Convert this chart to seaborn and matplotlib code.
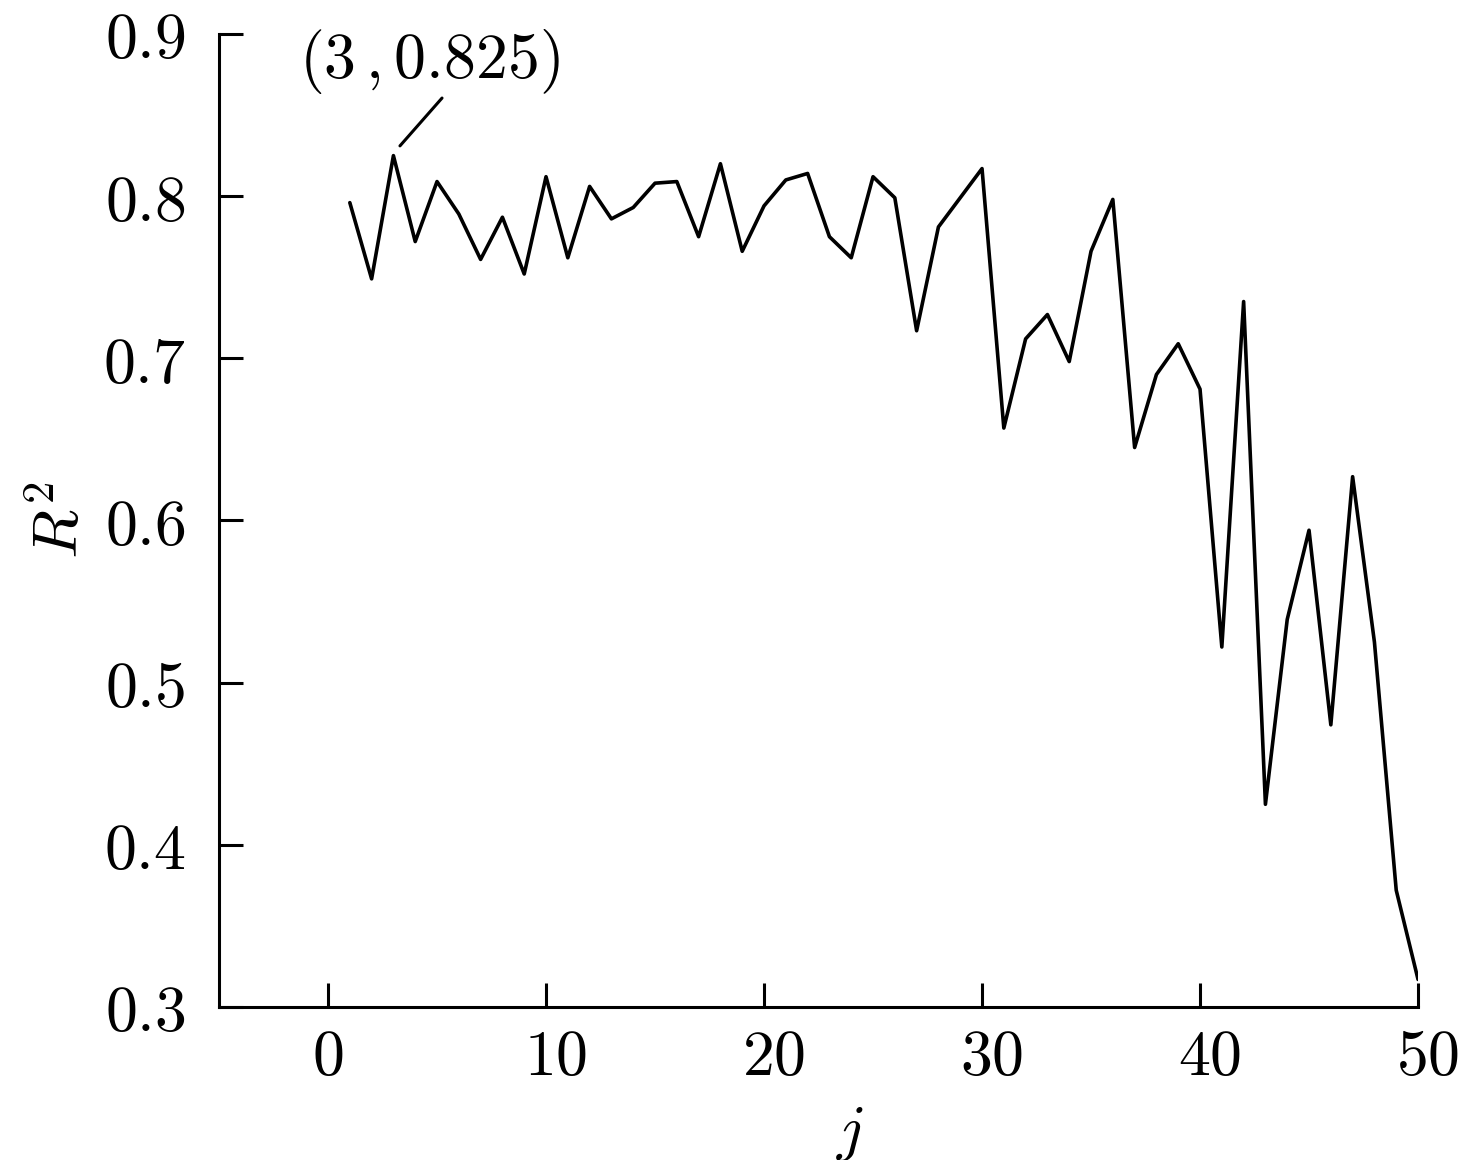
import matplotlib
matplotlib.use('Agg')
import matplotlib.pyplot as plt
import matplotlib.transforms as mtransforms
from matplotlib.ticker import FuncFormatter
import seaborn as sns

# R^2 for each j
j_values = list(range(1, 51))
r2_values = [0.796, 0.749, 0.825, 0.772, 0.809, 0.789, 0.761, 0.787, 0.752, 0.812,
             0.762, 0.806, 0.786, 0.793, 0.808, 0.809, 0.775, 0.820, 0.766, 0.794,
             0.810, 0.814, 0.775, 0.762, 0.812, 0.799, 0.717, 0.781, 0.799, 0.817,
             0.657, 0.712, 0.727, 0.698, 0.766, 0.798, 0.645, 0.690, 0.709, 0.681,
             0.522, 0.735, 0.425, 0.539, 0.594, 0.474, 0.627, 0.525, 0.372, 0.317]
x_ticks = [0, 10, 20, 30, 40, 50]
y_ticks = [0.3, 0.4, 0.5, 0.6, 0.7, 0.8, 0.9]
peak_label = '$(3\\,,0.825)$'

sns.set_style('ticks')
plt.rcParams['mathtext.fontset'] = 'cm'
plt.rcParams['font.family'] = ['DejaVu Sans']
plt.rcParams['text.color'] = 'black'
plt.rcParams['axes.labelcolor'] = 'black'

fig = plt.figure(figsize=(14.64, 11.6), dpi=100)
ax = fig.add_axes([0.1496, 0.1319, 0.8190, 0.8388])

sns.lineplot(x=j_values, y=r2_values, color='black', linewidth=2.6, ax=ax)

ax.set_xlim(-5, 50)
ax.set_ylim(0.3, 0.9)
ax.set_xticks(x_ticks)
ax.set_yticks(y_ticks)
ax.xaxis.set_major_formatter(FuncFormatter(lambda v, p: f'${v:.0f}$'))
ax.yaxis.set_major_formatter(FuncFormatter(lambda v, p: f'${v:.1f}$'))
ax.tick_params(direction='in', length=17, width=2.2, labelsize=46, colors='black')
ax.tick_params(axis='x', pad=14)
ax.tick_params(axis='y', pad=24)

# two-digit x labels sit a little right of their ticks in the original
shift = mtransforms.ScaledTranslation(10 / 100, 0, fig.dpi_scale_trans)
for lab, v in zip(ax.get_xticklabels(), x_ticks):
    if v >= 10:
        lab.set_transform(lab.get_transform() + shift)

for side in ['top', 'right']:
    ax.spines[side].set_visible(False)
for side in ['left', 'bottom']:
    ax.spines[side].set_linewidth(2.2)
    ax.spines[side].set_color('black')

ax.set_xlabel('$j$', fontsize=46)
ax.xaxis.label.set_va('center')
ax.xaxis.set_label_coords(0.526, -0.128)
ax.set_ylabel('$R^2$', fontsize=46, labelpad=8)

# leader line and label for the peak
ax.annotate('', xy=(3.3, 0.831), xytext=(5.23, 0.8605),
            arrowprops=dict(arrowstyle='-', color='black', lw=2.2,
                            shrinkA=0, shrinkB=0))
ax.text(4.68, 0.883, peak_label, fontsize=46, ha='center', va='center')

fig.savefig('out.png', dpi=100, facecolor='white')
